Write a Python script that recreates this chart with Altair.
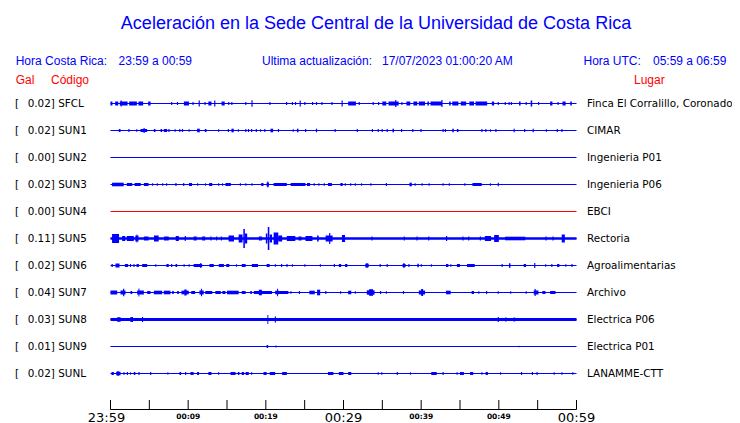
import altair as alt
import pandas as pd

# ---------------- data ----------------
STATIONS = ["SFCL", "SUN1", "SUN2", "SUN3", "SUN4", "SUN5", "SUN6", "SUN7", "SUN8", "SUN9", "SUNL"]
GAL = [0.02, 0.02, 0.00, 0.02, 0.00, 0.11, 0.02, 0.04, 0.03, 0.01, 0.02]
PLACES = ["Finca El Corralillo, Coronado", "CIMAR", "Ingenieria P01", "Ingenieria P06", "EBCI",
          "Rectoria", "Agroalimentarias", "Archivo", "Electrica P06", "Electrica P01", "LANAMME-CTT"]
INACTIVE = ["SUN4"]

# bursts per station: (start minute, end minute, half amplitude)
SFCL_BURSTS = [(0.0,0.25,2),(0.6,1.0,2),(1.2,2.2,2),(1.3,1.45,3),(2.4,3.4,2),(3.6,4.2,2),(4.85,5.15,2),
    (7.8,7.95,1.5),(8.55,8.7,1.5),(9.45,10.1,2),(10.55,10.7,1.5),(11.35,11.5,3),(12.1,12.25,1.5),(12.6,13.0,2),
    (13.35,13.5,3),(14.3,14.7,2),(15.15,15.3,1.5),(15.55,15.7,1.5),(17.35,17.5,1.5),(18.15,18.3,3.3),
    (20.45,20.6,1.5),(22.6,22.75,1.5),(23.35,23.5,1.5),(23.75,23.9,1.5),(24.35,24.5,3),(24.95,25.1,1.5),
    (25.95,26.1,1.5),(26.45,26.6,1.5),(27.15,27.3,1.5),(28.45,28.6,1.5),(29.75,29.9,3),(30.6,31.6,2),
    (31.95,32.1,1.5),(33.75,33.9,1.5),(34.45,34.6,1.5),(35.0,35.5,2),(35.8,37.1,2),(36.65,36.8,3.5),
    (37.45,37.6,1.5),(38.1,38.6,2),(39.0,39.5,2),(39.7,40.5,2),(40.8,41.0,2),(41.2,42.7,2),(42.6,42.75,3.5),
    (43.6,43.8,2),(44.0,44.8,2),(45.1,45.8,2),(46.2,46.8,2),(47.0,48.5,2),(49.1,49.4,2),(49.85,50.0,1.5),
    (50.75,50.9,1.5),(51.25,51.4,1.5),(51.55,51.7,1.5),(52.6,52.8,2),(53.45,53.6,1.5),(54.1,54.3,3),
    (55.05,55.2,1.5),(56.6,56.9,2),(57.55,57.7,1.5),(58.2,58.6,2),(59.2,59.4,2)]
SUN1_BURSTS = [(1.07,1.29,1.5),(2.3,2.45,1.5),(3.3,3.45,1.2),(3.86,4.72,1.5),(4.25,4.4,2.5),(5.58,5.79,1.5),
    (6.44,6.65,1.5),(6.86,7.29,1.5),(7.45,7.6,1.5),(8.25,8.4,1.2),(8.85,9.0,1.5),(9.2,9.35,1.5),(10.05,10.2,1.2),
    (11.15,11.5,1.8),(12.14,12.36,1.5),(13.85,14.0,1.2),(15.1,15.25,1.5),(15.57,15.87,1.8),(16.4,16.55,1.2),
    (17.35,17.5,1.5),(17.7,17.85,1.5),(18.1,18.25,1.5),(18.7,18.85,1.5),(19.25,19.4,1.2),(19.8,19.95,1.5),
    (20.6,20.94,1.8),(21.55,21.7,1.5),(23.45,23.6,1.2),(24.0,24.2,1.8),(25.05,25.2,1.5),(26.45,26.6,1.8),
    (28.85,29.0,1.5),(31.7,31.85,1.5),(33.65,33.8,1.5),(34.4,34.55,1.5),(34.9,35.05,1.5),(35.55,35.7,1.5),
    (36.3,36.5,1.8),(37.4,37.55,1.5),(38.85,39.0,1.5),(39.9,40.05,1.5),(42.75,42.9,1.5),(43.05,43.2,1.5),
    (44.0,44.2,1.8),(44.6,44.8,1.5),(47.75,47.9,1.5),(48.25,48.4,1.5),(48.85,49.0,1.2),(49.55,49.7,1.5),
    (51.9,52.05,1.8),(53.25,53.4,1.5),(54.35,54.5,1.8),(56.05,56.2,1.2),(57.45,57.6,1.5),(58.05,58.2,1.5)]
SUN3_BURSTS = [(0.2,1.7,1.8),(2.1,2.8,1.5),(3.1,3.9,1.5),(4.3,4.9,1.5),(5.35,5.5,1.2),(5.95,6.1,1.2),
    (6.65,6.8,1.2),(7.15,7.3,1.2),(8.35,8.5,1.5),(9.35,9.5,1.5),(10.1,10.5,1.5),(11.15,11.3,1.2),(12.15,12.3,1.2),
    (12.7,13.1,1.5),(13.85,14.0,1.2),(14.35,14.5,1.2),(14.8,15.5,1.5),(16.65,16.8,1.2),(17.35,17.5,1.2),
    (18.15,18.3,1.2),(19.4,19.7,1.5),(20.1,20.4,2),(20.2,20.32,3),(21.0,22.7,1.5),(23.2,25.1,1.5),(25.3,25.7,1.5),
    (26.15,26.3,1.2),(26.75,26.9,1.2),(27.45,27.6,1.2),(28.0,28.5,1.5),(29.6,29.9,1.5),(30.15,30.3,1.2),
    (30.85,31.0,1.2),(31.45,31.6,1.2),(32.25,32.4,1.2),(33.45,33.6,1.2),(35.45,35.6,1.5),(38.5,38.8,1.8),
    (39.15,39.3,1.2),(40.05,40.2,1.2),(40.95,41.1,1.2),(42.75,42.9,1.2),(43.55,43.7,1.2),(45.55,45.7,1.2),
    (46.6,47.8,1.5),(48.85,49.0,1.2),(49.85,50.0,1.8)]
SUN5_BURSTS = [(0.0,60.0,1.3),(0.2,1.1,4.5),(1.5,1.9,2.5),(2.1,3.0,2.5),(3.2,3.6,3),(3.35,3.45,4),(4.3,4.9,2),
    (5.6,6.2,3),(6.9,7.5,2),(8.4,8.8,2.5),(9.55,9.7,2.5),(10.7,11.1,2),(11.8,12.2,2),(12.85,13.0,2),
    (13.6,13.75,2),(14.2,14.35,2),(15.2,15.9,3),(16.5,17.0,4),(17.1,17.3,9.5),(17.3,17.6,5),(19.1,19.5,2),
    (20.0,20.2,5),(20.25,20.45,11.5),(20.5,20.8,4),(21.0,21.6,6),(21.6,22.1,3),(22.7,23.8,2.5),(24.2,24.6,2),
    (25.1,26.0,2.5),(26.6,26.8,3),(27.7,28.6,3),(28.15,28.3,5.5),(29.8,30.2,3.5),(33.6,33.75,2),(37.75,37.9,2),
    (39.4,39.55,2),(40.9,41.05,2),(43.2,43.35,2.5),(45.3,45.45,2),(46.05,46.2,2),(47.55,47.7,2),(48.2,49.0,2.5),
    (49.4,50.0,3.5),(50.8,53.4,1.8),(56.0,56.15,2),(56.9,57.05,2),(58.1,58.5,4)]
SUN6_BURSTS = [(0.13,0.3,1.5),(0.64,1.16,2),(1.85,2.27,1.5),(2.5,2.65,1.5),(2.95,3.1,1.5),(3.35,3.65,1.5),
    (4.08,4.72,1.5),(5.75,5.9,1.2),(7.2,7.5,1.5),(7.8,7.95,1.5),(8.37,8.58,1.5),(9.4,9.55,1.2),(10.05,10.2,1.2),
    (10.7,11.8,1.5),(11.55,11.7,2.5),(12.74,13.3,1.5),(13.94,14.6,1.5),(14.9,15.3,1.5),(16.15,16.3,1.2),
    (16.9,17.4,1.5),(18.2,19.0,1.5),(20.1,20.5,1.5),(21.15,21.3,1.2),(21.95,22.1,1.5),(22.65,22.8,1.5),
    (23.35,23.5,1.2),(24.95,25.1,1.2),(26.95,27.1,1.2),(28.75,28.9,1.5),(29.4,29.7,1.5),(30.2,30.5,1.5),
    (32.8,33.25,1.8),(32.95,33.1,2.5),(34.65,34.8,1.5),(35.55,35.7,1.5),(37.6,38.0,1.5),(37.7,37.85,2.5),
    (38.35,38.5,1.5),(39.5,39.7,1.8),(39.95,40.1,1.2),(41.25,41.4,1.2),(43.2,43.5,1.5),(43.75,43.9,1.2),
    (44.6,45.0,1.5),(45.9,46.9,1.5),(50.35,50.5,1.5),(51.3,51.5,2.2),(53.2,53.5,1.5),(54.55,54.7,2.5),
    (55.95,56.1,1.2),(56.75,56.9,1.5),(57.5,57.8,1.5),(58.55,58.7,1.2),(59.35,59.5,1.5)]
SUN7_BURSTS = [(0.0,0.86,2),(1.29,1.93,2),(1.62,1.77,3.8),(2.57,2.8,1.5),(3.43,4.29,2),(3.6,3.72,4),
    (4.72,5.15,1.5),(5.58,6.65,1.8),(6.86,7.72,1.8),(7.94,8.15,1.5),(8.58,8.8,1.5),(9.14,10.08,1.8),(9.5,9.8,3),
    (10.4,10.9,1.5),(11.45,12.0,2),(11.65,11.78,3.8),(12.2,13.1,1.5),(13.5,14.2,1.5),(14.4,14.8,1.5),
    (15.0,16.5,1.8),(16.9,17.4,1.5),(18.0,18.2,1.5),(18.45,20.8,1.5),(19.1,19.5,2.8),(21.2,21.7,1.8),
    (21.45,21.57,3.8),(21.7,22.9,1.5),(23.15,23.3,1.2),(24.25,24.4,1.5),(25.6,26.3,1.8),(26.6,27.0,2.8),
    (27.65,27.8,1.5),(29.55,29.7,1.2),(30.6,31.0,1.8),(31.45,31.6,1.2),(33.0,34.0,2.2),(33.3,33.8,3.3),
    (34.7,34.85,1.5),(35.45,35.6,1.2),(37.65,37.8,1.5),(39.7,40.5,2),(40.0,40.25,3.5),(43.2,43.8,1.8),
    (46.5,46.8,1.5),(47.35,47.5,1.2),(48.35,48.5,1.5),(49.85,50.0,1.2),(51.45,51.6,1.2),(53.45,53.6,1.2),
    (54.5,55.1,2),(54.6,54.75,3.5),(55.6,56.0,1.5),(56.6,57.3,1.5)]
SUN8_BURSTS = [(0.0,60.0,1.6),(0.86,1.3,2.3),(2.57,2.9,2.5),(4.05,4.2,2.6),(20.2,20.32,4.5),(21.15,21.3,3),
    (49.85,50.0,2.5),(50.8,51.0,2.0),(51.9,52.1,2.0)]
SUN9_BURSTS = [(20.1,20.3,1.5),(21.25,21.35,1.2),(52.55,52.65,0.8)]
SUNL_BURSTS = [(0.13,0.43,1.5),(0.73,1.29,1.8),(0.9,1.05,2.6),(1.67,1.8,1.5),(2.1,2.25,1.5),(2.52,2.65,1.2),
    (3.0,3.2,1.5),(3.6,3.75,1.5),(5.1,5.25,1.5),(7.33,7.45,1.2),(8.88,9.1,1.5),(9.6,9.75,1.5),(10.3,10.7,1.5),
    (11.15,11.4,1.5),(12.6,13.0,1.5),(13.85,14.0,1.2),(15.45,16.1,1.5),(16.4,16.6,1.5),(16.9,17.2,1.5),
    (17.4,17.8,1.5),(18.1,18.25,1.2),(19.7,20.1,1.5),(20.5,21.2,1.5),(22.1,22.7,1.5),(28.0,28.7,1.5),
    (29.4,30.0,1.5),(30.6,31.0,1.5),(34.4,34.55,1.2),(34.85,35.0,1.2),(36.85,37.0,1.5),(38.55,38.7,1.2),
    (41.3,42.0,1.5),(42.75,42.9,1.5),(44.55,44.7,1.2),(45.0,45.5,1.5),(46.3,46.7,1.5),(47.75,47.9,1.2),
    (48.3,48.6,1.5),(50.15,50.3,1.2),(52.85,53.0,1.5),(54.25,54.4,1.5),(54.85,55.0,1.5),(57.05,57.2,1.2),
    (58.05,58.2,1.2),(59.45,59.6,1.2)]
BURSTS = {"SFCL": SFCL_BURSTS, "SUN1": SUN1_BURSTS, "SUN2": [], "SUN3": SUN3_BURSTS, "SUN4": [],
          "SUN5": SUN5_BURSTS, "SUN6": SUN6_BURSTS, "SUN7": SUN7_BURSTS, "SUN8": SUN8_BURSTS,
          "SUN9": SUN9_BURSTS, "SUNL": SUNL_BURSTS}

TICK_MINUTES = list(range(0, 61, 5))
MAJOR_TICKS = [30, 60]
MAJOR_LABELS = ["00:29", "00:59"]
START_TICK = [0]
START_LABEL = ["23:59"]
MINOR_TICKS = [10, 20, 40, 50]
MINOR_LABELS = ["00:09", "00:19", "00:39", "00:49"]

# ---------------- styling ----------------
BLUE = "#0000ff"
RED = "#ff0000"
ROW_PX = 27.0
SANS = "Liberation Sans"
MONO = "DejaVu Sans"

X = alt.Scale(domain=[0, 60], range=[102.5, 568.5], nice=False, zero=False)
Y = alt.Scale(domain=[0, 10], range=[95.5, 365.5], nice=False, zero=False)

stations_df = pd.DataFrame({
    "code": STATIONS, "row": list(range(len(STATIONS))), "gal": GAL, "place": PLACES,
})
stations_df["label"] = [f"{g:.2f}] {c}" for g, c in zip(GAL, STATIONS)]
stations_df["color"] = [RED if c in INACTIVE else BLUE for c in STATIONS]
stations_df["t0"] = 0
stations_df["t1"] = 60

rows = []
for i, code in enumerate(STATIONS):
    for t0, t1, a in BURSTS[code]:
        rows.append({"code": code, "t0": t0, "t1": t1,
                     "y1": i - a / ROW_PX, "y2": i + a / ROW_PX})
bursts_df = pd.DataFrame(rows)

base = alt.Chart(stations_df)

baselines = base.mark_rule(strokeWidth=1).encode(
    x=alt.X("t0:Q", scale=X, axis=None), x2="t1:Q",
    y=alt.Y("row:Q", scale=Y, axis=None),
    color=alt.Color("color:N", scale=None),
)

traces = alt.Chart(bursts_df).mark_rect(color=BLUE).encode(
    x=alt.X("t0:Q", scale=X, axis=None), x2="t1:Q",
    y=alt.Y("y1:Q", scale=Y, axis=None), y2="y2:Q",
)

bracket = base.mark_text(align="left", baseline="middle", font=MONO, fontSize=10.4, color="black").encode(
    x=alt.value(7), y=alt.Y("row:Q", scale=Y, axis=None), text=alt.value("["))
left_lbl = base.mark_text(align="left", baseline="middle", font=MONO, fontSize=10.4, color="black").encode(
    x=alt.value(19.7), y=alt.Y("row:Q", scale=Y, axis=None), text="label:N")
right_lbl = base.mark_text(align="left", baseline="middle", font=MONO, fontSize=10.4, color="black").encode(
    x=alt.value(579), y=alt.Y("row:Q", scale=Y, axis=None), text="place:N")

ticks_df = pd.DataFrame({"m": TICK_MINUTES})
ticks = alt.Chart(ticks_df).mark_rule(color="black", strokeWidth=1).encode(
    x=alt.X("m:Q", scale=X, axis=None), y=alt.value(392), y2=alt.value(401.5))
axis_line = alt.Chart(pd.DataFrame({"a": [0], "b": [60]})).mark_rule(color="black", strokeWidth=1).encode(
    x=alt.X("a:Q", scale=X, axis=None), x2="b:Q", y=alt.value(401.5))
major = alt.Chart(pd.DataFrame({"m": MAJOR_TICKS, "t": MAJOR_LABELS})).mark_text(
    align="center", baseline="alphabetic", font=MONO, fontSize=13, color="black").encode(
    x=alt.X("m:Q", scale=X, axis=None), y=alt.value(413.5), text="t:N")
start = alt.Chart(pd.DataFrame({"m": START_TICK, "t": START_LABEL})).mark_text(
    align="center", baseline="alphabetic", font=MONO, fontSize=13, color="black", dx=-4).encode(
    x=alt.X("m:Q", scale=X, axis=None), y=alt.value(413.5), text="t:N")
minor = alt.Chart(pd.DataFrame({"m": MINOR_TICKS, "t": MINOR_LABELS})).mark_text(
    align="center", baseline="alphabetic", font=MONO, fontSize=7.5, fontWeight="bold", color="black").encode(
    x=alt.X("m:Q", scale=X, axis=None), y=alt.value(410.5), text="t:N")

one = pd.DataFrame({"k": [0]})


def label(text, x, y, color, size, align="left"):
    return alt.Chart(one).mark_text(align=align, baseline="alphabetic", font=SANS, fontSize=size,
                                    color=color).encode(x=alt.value(x), y=alt.value(y), text=alt.value(text))


headers = [
    label("Aceleración en la Sede Central de la Universidad de Costa Rica", 368, 21.3, BLUE, 18, "center"),
    label("Hora Costa Rica:", 7.7, 56.5, BLUE, 12),
    label("23:59 a 00:59", 110.6, 56.5, BLUE, 12),
    label("Ultima actualización:", 254, 56.5, BLUE, 12),
    label("17/07/2023 01:00:20 AM", 374, 56.5, BLUE, 12),
    label("Hora UTC:", 575.5, 56.5, BLUE, 12),
    label("05:59 a 06:59", 645, 56.5, BLUE, 12),
    label("Gal", 7.7, 76, RED, 12),
    label("Código", 43, 76, RED, 12),
    label("Lugar", 626, 76, RED, 12),
]

chart = alt.layer(
    baselines, traces, bracket, left_lbl, right_lbl, ticks, axis_line, major, start, minor, *headers
).properties(
    width=724, height=415, autosize=alt.AutoSizeParams(type="none"), padding=0,
).configure_view(strokeWidth=0)

chart.save("out.html", embed_options={"renderer": "svg", "actions": False})
